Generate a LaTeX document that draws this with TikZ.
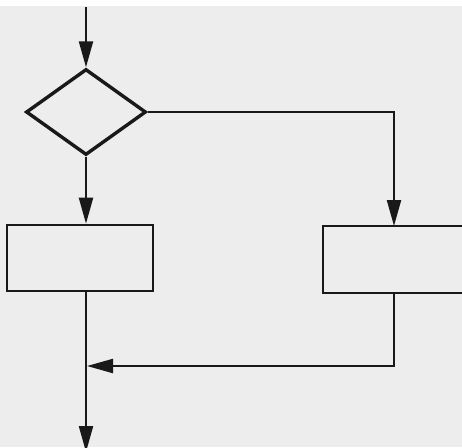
\documentclass[tikz,border=0pt]{standalone}
\usetikzlibrary{shapes.geometric,arrows.meta}
\begin{document}
\begin{tikzpicture}[x=1pt,y=-1pt,
  box/.style={draw=black!90,line width=2.6pt,rectangle,inner sep=0pt},
  decision/.style={draw=black!90,line width=3.4pt,diamond,inner sep=0pt,minimum width=120pt,minimum height=86pt},
  arr/.style={draw=black!90,line width=2.2pt,-{Triangle[length=26pt,width=14pt]}}]
\useasboundingbox (0,0) rectangle (462,447);
\clip (0,0) rectangle (462,447);
\fill[black!7] (0,0) rectangle (462,447);
\fill[white] (0,0) rectangle (462,6);
\node[decision] (dia) at (86,112) {};
\node[box,minimum width=146pt,minimum height=66pt] (lbox) at (80,258) {};
\node[box,minimum width=150pt,minimum height=67pt] (rbox) at (398,259.5) {};
\coordinate (start) at (86,7);
\coordinate (rtop) at (394,226);
\coordinate (join) at (87,366);
\coordinate (end) at (86,452);
\draw[arr] (start) -- (dia.north);
\draw[arr] (dia.south) -- (lbox.north -| dia.south);
\draw[arr] (dia.east) -| (rtop);
\draw[arr] (rbox.south -| rtop) |- (join);
\draw[arr] (lbox.south -| start) -- (end);
\end{tikzpicture}
\end{document}
